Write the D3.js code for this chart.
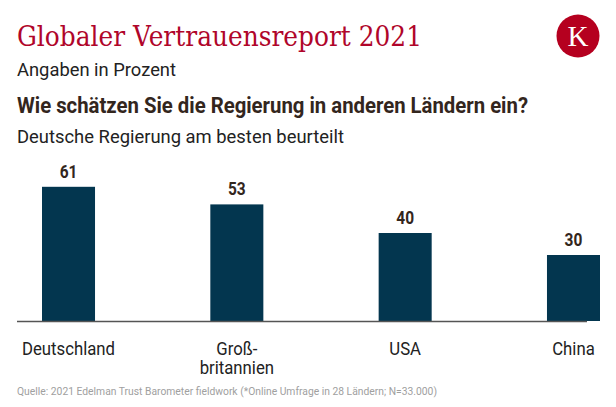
<!DOCTYPE html>
<html><head><meta charset="utf-8">
<script src="https://cdn.jsdelivr.net/npm/d3@7"></script>
<style>html,body{margin:0;padding:0;background:#fff;}</style>
</head><body>
<svg id="c" width="616" height="407"></svg>
<script>
const categories = ["Deutschland", "Groß-\nbritannien", "USA", "China"];
const values = [61, 53, 40, 30];
const title = "Globaler Vertrauensreport 2021";
const subtitle = "Angaben in Prozent";
const question = "Wie schätzen Sie die Regierung in anderen Ländern ein?";
const subquestion = "Deutsche Regierung am besten beurteilt";
const source = "Quelle: 2021 Edelman Trust Barometer fieldwork (*Online Umfrage in 28 Ländern; N=33.000)";

const svg = d3.select("#c");
const sans = "Roboto, 'Noto Sans', sans-serif";

// condense text horizontally by a factor (Roboto Condensed is not installed)
function condense(sel, k) {
  const len = sel.node().getComputedTextLength();
  if (len > 0) sel.attr("textLength", len * k).attr("lengthAdjust", "spacingAndGlyphs");
  return sel;
}
function fit(sel, w) {
  const len = sel.node().getComputedTextLength();
  if (len > 0) sel.attr("textLength", w).attr("lengthAdjust", "spacingAndGlyphs");
  return sel;
}

fit(svg.append("text").attr("x", 17).attr("y", 46).text(title)
  .attr("font-family", "'DejaVu Serif', 'Liberation Serif', serif").attr("font-size", 28)
  .attr("fill", "#b0052a"), 405);
fit(svg.append("text").attr("x", 17).attr("y", 76).text(subtitle)
  .attr("font-family", sans).attr("font-size", 19).attr("fill", "#222"), 159);
fit(svg.append("text").attr("x", 17).attr("y", 113).text(question)
  .attr("font-family", sans).attr("font-size", 22).attr("font-weight", "bold").attr("fill", "#33261d"), 511);
fit(svg.append("text").attr("x", 17).attr("y", 143).text(subquestion)
  .attr("font-family", sans).attr("font-size", 19).attr("fill", "#222"), 327);
fit(svg.append("text").attr("x", 17).attr("y", 395).text(source)
  .attr("font-family", sans).attr("font-size", 11).attr("fill", "#a0a0a0"), 420);

// logo
const logo = svg.append("g");
logo.append("circle").attr("cx", 578).attr("cy", 36).attr("r", 21.5).attr("fill", "#b5001f");
logo.append("text").attr("x", 578).attr("y", 46).attr("text-anchor", "middle")
  .attr("font-family", "'Liberation Serif', 'DejaVu Serif', serif").attr("font-size", 29)
  .attr("fill", "#fff").text("K");

const x = d3.scaleBand().domain(categories).range([42, 600]).paddingInner(0.685).paddingOuter(0);
const y = d3.scaleLinear().domain([0, 100]).range([321, 101]);

svg.selectAll("rect.bar").data(values).join("rect").attr("class", "bar")
  .attr("x", (d, i) => x(categories[i]))
  .attr("width", x.bandwidth())
  .attr("y", d => y(d))
  .attr("height", d => y(0) - y(d))
  .attr("fill", "#03364f");

svg.append("line").attr("x1", 17).attr("x2", 587).attr("y1", y(0) + 0.5).attr("y2", y(0) + 0.5)
  .attr("stroke", "#555").attr("stroke-width", 1.5);

svg.selectAll("text.val").data(values).join("text").attr("class", "val")
  .attr("x", (d, i) => x(categories[i]) + x.bandwidth() / 2)
  .attr("y", d => y(d) - 9)
  .attr("text-anchor", "middle")
  .attr("font-family", sans).attr("font-size", 18).attr("font-weight", "bold")
  .attr("fill", "#33261d")
  .text(d => d)
  .each(function () { condense(d3.select(this), 0.86); });

categories.forEach((c, i) => {
  const lines = c.split("\n");
  const cx = x(c) + x.bandwidth() / 2;
  lines.forEach((ln, j) => {
    const t = svg.append("text").attr("x", cx).attr("y", 355 + j * 19)
      .attr("text-anchor", "middle")
      .attr("font-family", sans).attr("font-size", 18).attr("fill", "#222")
      .text(ln);
    condense(t, 0.93);
  });
});
</script>
</body></html>
